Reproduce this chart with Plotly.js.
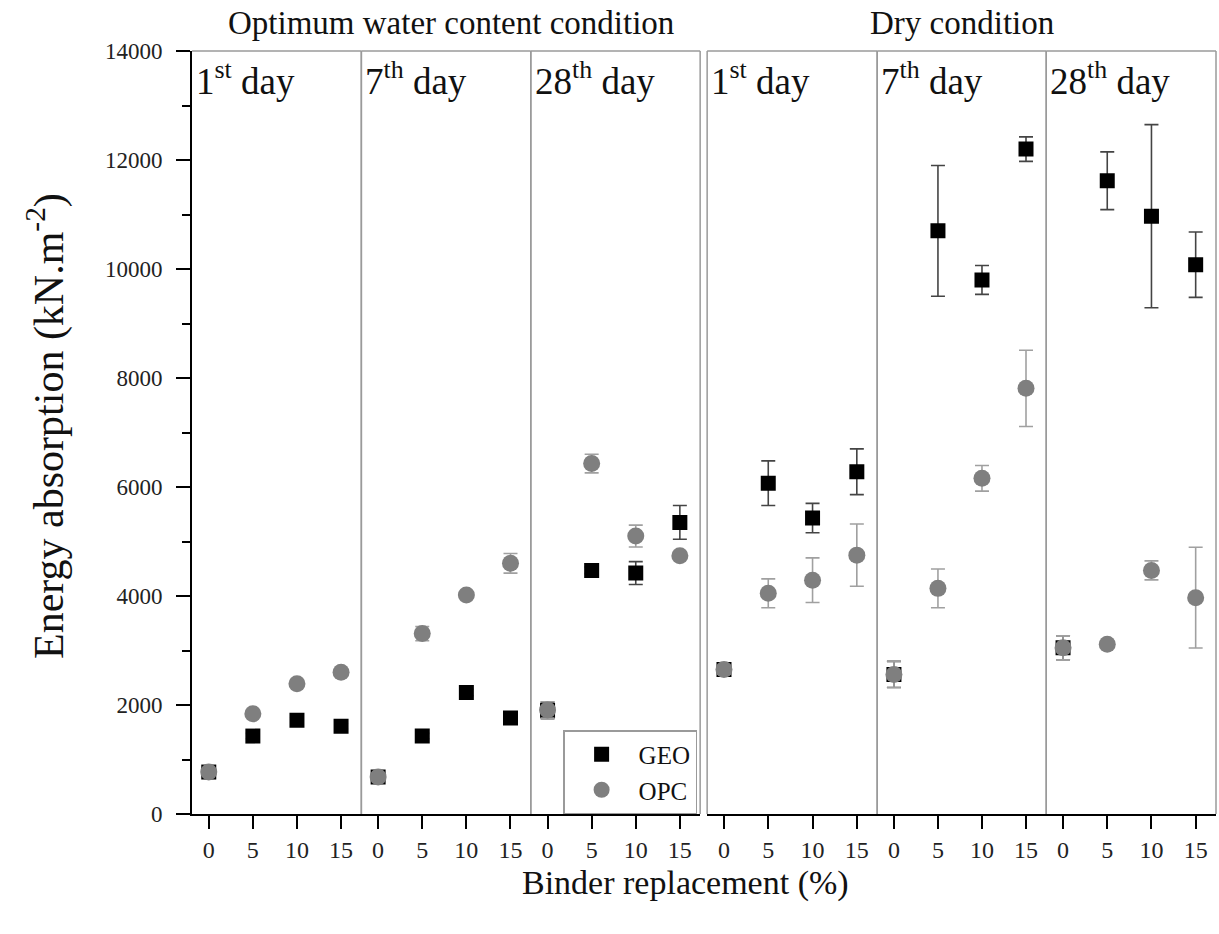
<!DOCTYPE html>
<html><head><meta charset="utf-8">
<script src="https://cdn.plot.ly/plotly-3.0.1.min.js"></script>
<style>html,body{margin:0;padding:0;background:#fff}</style>
</head><body><div id="chart" style="width:1219px;height:934px"></div>
<script>
// ---- data ----
const xValues = [0, 5, 10, 15];
const tickLabels = ['0', '5', '10', '15'];
const panelTitles = ['Optimum water content condition', 'Dry condition'];
const dayLabels = ['1<sup>st</sup> day', '7<sup>th</sup> day', '28<sup>th</sup> day'];
const seriesNames = ['GEO', 'OPC'];

// GEO means (kN.m-2)
const geoOpt1 = [770, 1430, 1720, 1610];
const geoOpt7 = [680, 1430, 2230, 1760];
const geoOpt28 = [1900, 4470, 4420, 5350];
const geoDry1 = [2650, 6070, 5430, 6280];
const geoDry7 = [2560, 10700, 9800, 12200];
const geoDry28 = [3050, 11620, 10970, 10080];
// GEO errors
const geoOpt1Err = [60, 50, 50, 50];
const geoOpt7Err = [60, 50, 60, 50];
const geoOpt28Err = [150, 60, 210, 310];
const geoDry1Err = [80, 410, 270, 420];
const geoDry7Err = [240, 1200, 265, 225];
const geoDry28Err = [220, 530, 1680, 600];

// OPC means
const opcOpt1 = [770, 1840, 2390, 2600];
const opcOpt7 = [680, 3310, 4020, 4600];
const opcOpt28 = [1910, 6430, 5100, 4740];
const opcDry1 = [2650, 4050, 4290, 4750];
const opcDry7 = [2560, 4140, 6160, 7810];
const opcDry28 = [3050, 3115, 4470, 3970];
// OPC errors
const opcOpt1Err = [60, 60, 60, 60];
const opcOpt7Err = [60, 130, 60, 180];
const opcOpt28Err = [150, 170, 200, 60];
const opcDry1Err = [80, 265, 410, 570];
const opcDry7Err = [240, 355, 235, 700];
const opcDry28Err = [220, 60, 175, 925];

const geoSets = [geoOpt1, geoOpt7, geoOpt28, geoDry1, geoDry7, geoDry28];
const geoErrs = [geoOpt1Err, geoOpt7Err, geoOpt28Err, geoDry1Err, geoDry7Err, geoDry28Err];
const opcSets = [opcOpt1, opcOpt7, opcOpt28, opcDry1, opcDry7, opcDry28];
const opcErrs = [opcOpt1Err, opcOpt7Err, opcOpt28Err, opcDry1Err, opcDry7Err, opcDry28Err];

// ---- layout geometry ----
const W = 1219, H = 934;
const L = 192, R = 1215.7, T = 51, B = 814;
const pw = R - L, ph = B - T;
const px = v => (v - L) / pw;
const edges = [[192, 361.3], [361.3, 530.7], [530.7, 700], [707, 877], [877, 1046], [1046, 1215.7]];
const domains = edges.map(e => [px(e[0]), px(e[1])]);

const FONT = 'Liberation Serif, Times New Roman, serif';
const traces = [];
const layout = {
  width: W, height: H,
  margin: {l: L, r: W - R, t: T, b: H - B, pad: 0},
  paper_bgcolor: '#fff', plot_bgcolor: 'rgba(0,0,0,0)',
  font: {family: FONT, color: '#000'},
  showlegend: true,
  legend: {
    x: px(563), xanchor: 'left', y: 0, yanchor: 'bottom',
    bordercolor: '#9a9a9a', borderwidth: 1.5, bgcolor: '#fff',
    font: {family: FONT, size: 25, color: '#111'}, itemwidth: 64,
    tracegroupgap: 0
  },
  yaxis: {
    range: [0, 14000], domain: [0, 1], anchor: 'x', dtick: 2000, tick0: 0, tickformat: 'd',
    ticks: 'outside', ticklen: 14, tickwidth: 2, tickcolor: '#000',
    minor: {dtick: 1000, ticks: 'outside', ticklen: 8, tickwidth: 2, tickcolor: '#000', showgrid: false},
    showline: true, linecolor: '#000', linewidth: 2, showgrid: false, zeroline: false,
    tickfont: {family: FONT, size: 23, color: '#222'}, ticklabelstandoff: 9, fixedrange: true
  },
  shapes: [], annotations: []
};

for (let i = 0; i < 6; i++) {
  const ax = i === 0 ? 'x' : 'x' + (i + 1);
  const key = i === 0 ? 'xaxis' : 'xaxis' + (i + 1);
  layout[key] = {
    domain: domains[i], anchor: 'y', range: [-1.9, 17.3],
    tickvals: xValues, ticktext: tickLabels,
    ticks: 'outside', ticklen: 13, tickwidth: 2, tickcolor: '#000',
    showline: true, linecolor: '#000', linewidth: 2, showgrid: false, zeroline: false,
    tickfont: {family: FONT, size: 24, color: '#222'}, fixedrange: true
  };
  traces.push({
    type: 'scatter', mode: 'markers', name: seriesNames[0], legendgroup: 'geo', showlegend: i === 0,
    x: xValues, y: geoSets[i], xaxis: ax, yaxis: 'y',
    marker: {symbol: 'square', size: 15, color: '#000'},
    error_y: {type: 'data', array: geoErrs[i], visible: true, color: '#444', thickness: 1.6, width: 7}
  });
  traces.push({
    type: 'scatter', mode: 'markers', name: seriesNames[1], legendgroup: 'opc', showlegend: i === 0,
    x: xValues, y: opcSets[i], xaxis: ax, yaxis: 'y',
    marker: {symbol: 'circle', size: 17, color: '#7f7f7f'},
    error_y: {type: 'data', array: opcErrs[i], visible: true, color: '#a0a0a0', thickness: 1.6, width: 7}
  });
  const [d0, d1] = domains[i];
  const ln = {color: '#9a9a9a', width: 1.5};
  layout.shapes.push({type: 'line', xref: 'paper', yref: 'paper', x0: d0, x1: d1, y0: 1, y1: 1, line: ln, layer: 'below'});
  layout.shapes.push({type: 'line', xref: 'paper', yref: 'paper', x0: d1, x1: d1, y0: 0, y1: 1, line: ln, layer: 'below'});
  if (i !== 0) layout.shapes.push({type: 'line', xref: 'paper', yref: 'paper', x0: d0, x1: d0, y0: 0, y1: 1, line: ln, layer: 'below'});
  layout.annotations.push({
    text: dayLabels[i % 3], xref: 'paper', yref: 'paper', x: d0, y: 1, xanchor: 'left', yanchor: 'top',
    xshift: 2, yshift: -2, showarrow: false, font: {family: FONT, size: 37, color: '#111'}
  });
}

layout.annotations.push({text: panelTitles[0], xref: 'paper', yref: 'paper', x: px(451), y: 1,
  xanchor: 'center', yanchor: 'bottom', yshift: 8,
  showarrow: false, font: {family: FONT, size: 33, color: '#111'}});
layout.annotations.push({text: panelTitles[1], xref: 'paper', yref: 'paper', x: px(962), y: 1,
  xanchor: 'center', yanchor: 'bottom', yshift: 8,
  showarrow: false, font: {family: FONT, size: 33, color: '#111'}});
layout.annotations.push({text: 'Binder replacement (%)', xref: 'paper', yref: 'paper', x: px(685), y: -69 / ph,
  xanchor: 'center', yanchor: 'middle', showarrow: false, font: {family: FONT, size: 34, color: '#111'}});
layout.annotations.push({text: 'Energy absorption (kN.m<sup>-2</sup>)', xref: 'paper', yref: 'paper', x: px(46), y: (B - 426) / ph,
  xanchor: 'center', yanchor: 'middle', textangle: -90, showarrow: false, font: {family: FONT, size: 42, color: '#111'}});

Plotly.newPlot('chart', traces, layout, {displayModeBar: false, staticPlot: true});
</script></body></html>
